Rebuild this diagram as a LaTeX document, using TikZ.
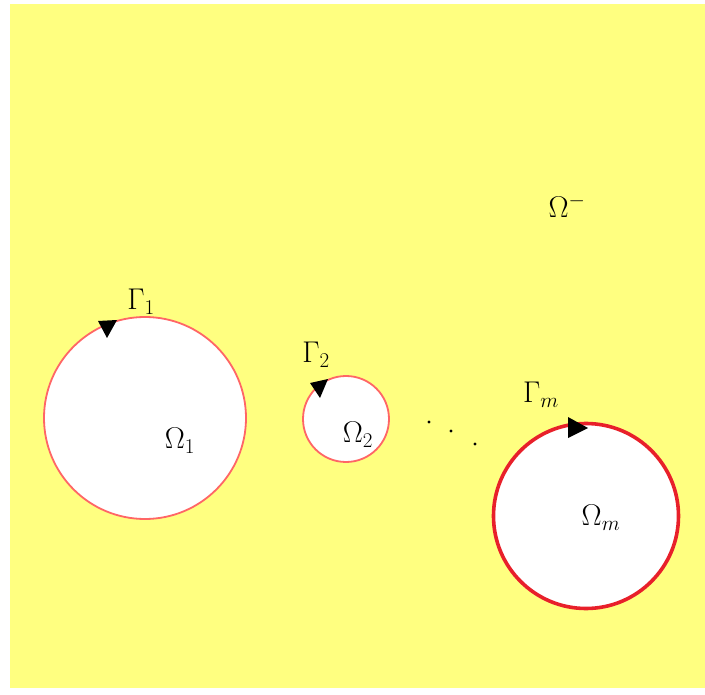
\RequirePackage{fix-cm}
\documentclass[tikz,border=0pt]{standalone}
\usepackage{amsmath,amssymb}
\usepackage{xcolor}
\usepackage{tikz}
\usetikzlibrary{arrows.meta,positioning}
\definecolor{field}{HTML}{FFFF80}
\definecolor{rim}{HTML}{FF6666}
\definecolor{rimm}{HTML}{E8202A}
\tikzset{
  hole/.style={circle,draw=#1,fill=white,inner sep=0pt,line width=1.8pt},
  hole/.default=rim,
  lab/.style={font=\fontsize{30}{34}\selectfont,inner sep=0pt},
  tip/.style={fill=black},
  dot/.style={circle,fill=black,inner sep=0pt,minimum size=3.2pt},
}
\begin{document}
\begin{tikzpicture}[x=1pt,y=-1pt]
  \useasboundingbox (0,0) rectangle (705,695);
  \fill[field] (10,4) rectangle (705,688);
  % the three holes
  \node[hole,minimum size=202pt]            (om1) at (145,418) {};
  \node[hole,minimum size=86pt]             (om2) at (346,419) {};
  \node[hole=rimm,minimum size=185pt,line width=3.6pt] (omm) at (586,516) {};
  % orientation marks
  \fill[tip] (98,321) -- (117,320) -- (107,338) -- cycle;
  \fill[tip] (310,383) -- (328,379) -- (320,398) -- cycle;
  \fill[tip] (568,417) -- (588,428) -- (568,438) -- cycle;
  % labels
  \node[lab] (g1)  at (141,302) {$\Gamma_1$};
  \node[lab] (g2)  at (316,355) {$\Gamma_2$};
  \node[lab] (gm)  at (541,395) {$\Gamma_m$};
  \node[lab] (o1)  at (180,441) {$\Omega_1$};
  \node[lab] (o2)  at (358,435) {$\Omega_2$};
  \node[lab] (omL) at (601,518) {$\Omega_m$};
  \node[lab] (ext) at (567,206) {$\Omega^{-}$};
  % dots
  \foreach \p in {(429,422),(451,431),(475,444)}{ \node[dot] at \p {}; }
\end{tikzpicture}
\end{document}
